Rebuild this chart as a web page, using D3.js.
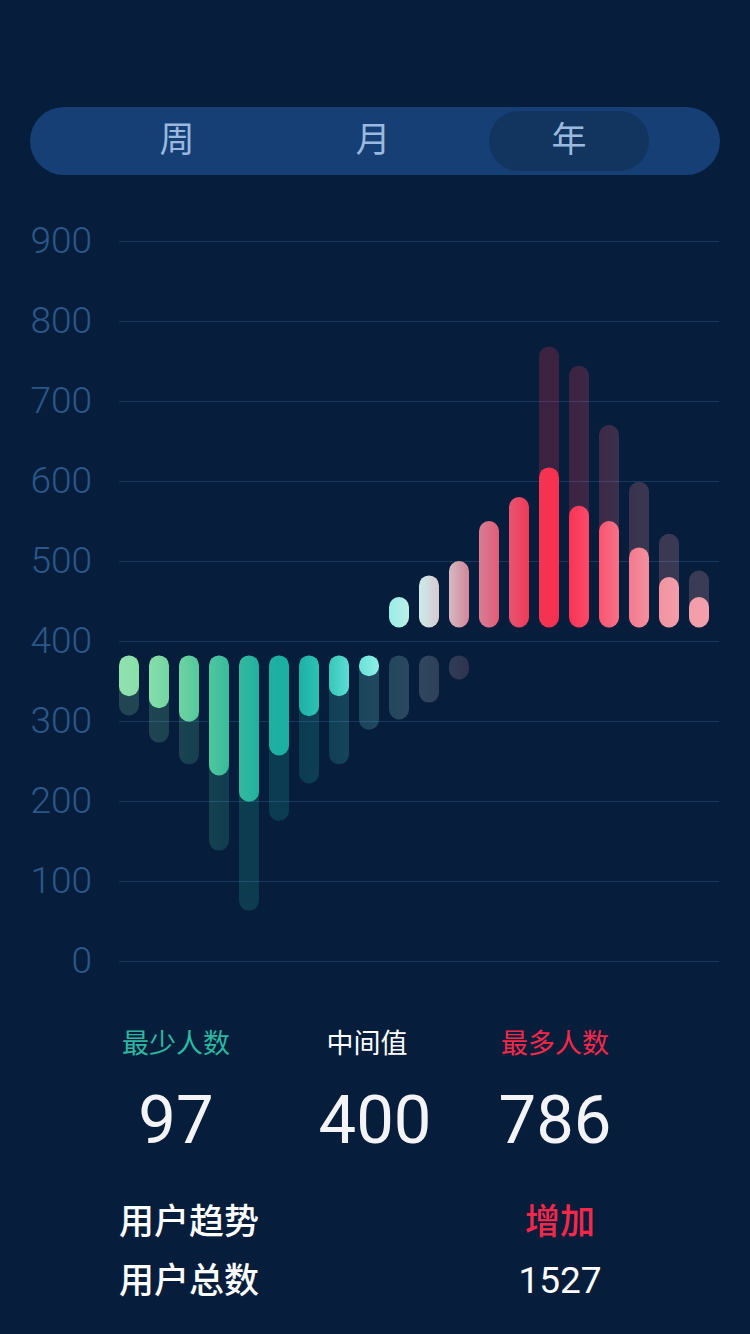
<!DOCTYPE html>
<html>
<head>
<meta charset="utf-8">
<script src="https://cdn.jsdelivr.net/npm/d3@7"></script>
<style>
  html, body { margin: 0; padding: 0; background: #061e3c; }
  svg { display: block; }
</style>
</head>
<body>
<svg id="chart" width="750" height="1334"></svg>
<script>
// data
var categories = ["1","2","3","4","5","6","7","8","9","10","11","12","13","14","15","16","17","18","19","20"];
var yTicks = [0, 100, 200, 300, 400, 500, 600, 700, 800, 900];
var tabs = ["周", "月", "年"];
var activeTab = "年";

// low group hangs down from lowTop, high group rises from highBase
var lowTop = 382;
var highBase = 417;
var lowFront = [331, 316, 299, 232, 199, 257, 306, 331, 356, null, null, null, null, null, null, null, null, null, null, null];
var lowBack  = [307, 273, 246, 138, 63, 175, 222, 246, 289, 302, 323, 352, null, null, null, null, null, null, null, null];
var highFront = [null, null, null, null, null, null, null, null, null, 455, 482, 500, 550, 580, 617, 569, 550, 517, 480, 455];
var highBack  = [null, null, null, null, null, null, null, null, null, null, null, null, 516, null, 768, 744, 670, 599, 534, 488];

var statLabels = ["最少人数", "中间值", "最多人数"];
var statValues = ["97", "400", "786"];
var trendLabel = "用户趋势", trendValue = "增加";
var totalLabel = "用户总数", totalValue = "1527";

// colour of each column
var columnColors = ["#90e2ad", "#80dba6", "#62cea0", "#42c09c", "#2ab5a0", "#17aca0", "#1fb6a8", "#45d2c6", "#82ece4", "#a6f0e8",
                    "#e2eaea", "#cc98a8", "#dc6c86", "#ec4562", "#f72848", "#fc3b5c", "#f8647e", "#f28898", "#f29ca8", "#f2a0ac"];

var svg = d3.select("#chart");
var cjk = "'Noto Sans CJK SC', 'Noto Sans', sans-serif";
var latin = "Roboto, 'Liberation Sans', sans-serif";

// ---- tab switch ----
svg.append("rect")
  .attr("x", 30).attr("y", 107).attr("width", 690).attr("height", 68)
  .attr("rx", 34).attr("fill", "#153f75");

var tabX = d3.scalePoint().domain(tabs).range([177, 569]);

svg.append("rect")
  .attr("x", tabX(activeTab) - 80).attr("y", 111).attr("width", 160).attr("height", 60)
  .attr("rx", 30).attr("fill", "#12355f");

svg.selectAll(".tab")
  .data(tabs)
  .enter().append("text")
  .attr("class", "tab")
  .attr("x", function(d) { return tabX(d); })
  .attr("y", 139)
  .attr("dy", "0.36em")
  .attr("text-anchor", "middle")
  .style("font-family", cjk)
  .style("font-size", "35px")
  .style("fill", "#9bb9de")
  .text(function(d) { return d; });

// ---- chart ----
var x = d3.scaleBand().domain(categories).range([114, 714]).paddingInner(1 / 3).paddingOuter(1 / 6);
var y = d3.scaleLinear().domain([0, 900]).range([961, 241]);

var colorAt = d3.scaleLinear()
  .domain(d3.range(columnColors.length))
  .range(columnColors)
  .interpolate(d3.interpolateRgb)
  .clamp(true);

var yAxis = d3.axisLeft(y)
  .tickValues(yTicks)
  .tickSize(-600)
  .tickPadding(27);

var axisG = svg.append("g")
  .attr("class", "y axis")
  .attr("transform", "translate(119,0)")
  .call(yAxis);

axisG.select(".domain").remove();
axisG.selectAll(".tick line").attr("stroke", "#19385e").attr("stroke-width", 1);
axisG.selectAll(".tick text")
  .style("font-family", latin)
  .style("font-weight", 300)
  .style("font-size", "37px")
  .style("fill", "#2c5889");

// horizontal gradient per column
var defs = svg.append("defs");
categories.forEach(function(c, i) {
  var g = defs.append("linearGradient")
    .attr("id", "grad" + i)
    .attr("x1", "0%").attr("x2", "100%").attr("y1", "0%").attr("y2", "0%");
  g.append("stop").attr("offset", "0%").attr("stop-color", colorAt(i - 0.4));
  g.append("stop").attr("offset", "100%").attr("stop-color", colorAt(i + 0.4));
});

function rows(values) {
  return values.map(function(v, i) { return {cat: categories[i], i: i, v: v}; })
    .filter(function(d) { return d.v != null; });
}

var bars = svg.append("g");
var w = x.bandwidth();

function drawLow(values, cls, opacity) {
  bars.selectAll("." + cls)
    .data(rows(values))
    .enter().append("rect")
    .attr("class", cls)
    .attr("x", function(d) { return x(d.cat); })
    .attr("y", y(lowTop))
    .attr("width", w)
    .attr("height", function(d) { return y(d.v) - y(lowTop); })
    .attr("rx", w / 2).attr("ry", w / 2)
    .attr("fill", function(d) { return "url(#grad" + d.i + ")"; })
    .attr("fill-opacity", opacity);
}

function drawHigh(values, cls, opacity) {
  bars.selectAll("." + cls)
    .data(rows(values))
    .enter().append("rect")
    .attr("class", cls)
    .attr("x", function(d) { return x(d.cat); })
    .attr("y", function(d) { return y(d.v); })
    .attr("width", w)
    .attr("height", function(d) { return y(highBase) - y(d.v); })
    .attr("rx", w / 2).attr("ry", w / 2)
    .attr("fill", function(d) { return "url(#grad" + d.i + ")"; })
    .attr("fill-opacity", opacity);
}

drawLow(lowBack, "low-back", 0.2);
drawHigh(highBack, "high-back", 0.22);
drawLow(lowFront, "low-front", 1);
drawHigh(highFront, "high-front", 1);

// ---- summary ----
var statX = d3.scaleOrdinal().domain(statLabels).range([176, 367, 555]);
var statColors = d3.scaleOrdinal().domain(statLabels).range(["#2bb7a0", "#ffffff", "#f5284a"]);

svg.selectAll(".stat-label")
  .data(statLabels)
  .enter().append("text")
  .attr("class", "stat-label")
  .attr("x", function(d) { return statX(d); })
  .attr("y", 1053)
  .attr("text-anchor", "middle")
  .style("font-family", cjk)
  .style("font-weight", 400)
  .style("font-size", "27px")
  .style("fill", function(d) { return statColors(d); })
  .text(function(d) { return d; });

svg.selectAll(".stat-value")
  .data(statValues)
  .enter().append("text")
  .attr("class", "stat-value")
  .attr("x", function(d, i) { return statX(statLabels[i]) - (i === 1 ? -8 : 0); })
  .attr("y", 1143)
  .attr("text-anchor", "middle")
  .style("font-family", latin)
  .style("font-weight", 400)
  .style("font-size", "67px")
  .style("fill", "#f4f4f6")
  .text(function(d) { return d; });

var info = [
  {label: trendLabel, value: trendValue, y: 1234, color: "#f5284a", font: cjk, size: 35, weight: 500},
  {label: totalLabel, value: totalValue, y: 1293, color: "#ffffff", font: latin, size: 37, weight: 400}
];

svg.selectAll(".info-label")
  .data(info)
  .enter().append("text")
  .attr("class", "info-label")
  .attr("x", 119)
  .attr("y", function(d) { return d.y; })
  .style("font-family", cjk)
  .style("font-weight", 500)
  .style("font-size", "35px")
  .style("fill", "#ffffff")
  .text(function(d) { return d.label; });

svg.selectAll(".info-value")
  .data(info)
  .enter().append("text")
  .attr("class", "info-value")
  .attr("x", 560)
  .attr("y", function(d) { return d.y; })
  .attr("text-anchor", "middle")
  .style("font-family", function(d) { return d.font; })
  .style("font-weight", function(d) { return d.weight; })
  .style("font-size", function(d) { return d.size + "px"; })
  .style("fill", function(d) { return d.color; })
  .text(function(d) { return d.value; });
</script>
</body>
</html>
